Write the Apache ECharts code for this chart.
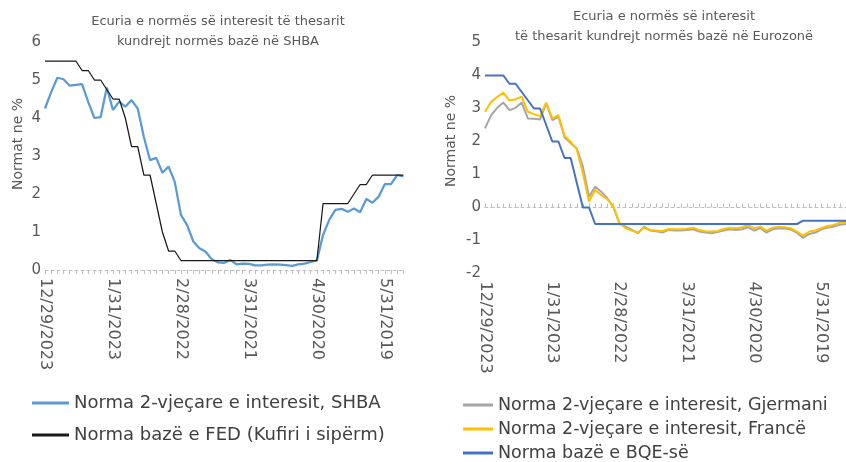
<!DOCTYPE html>
<html>
<head>
<meta charset="utf-8">
<script src="https://cdn.jsdelivr.net/npm/echarts@6/dist/echarts.min.js"></script>
<style>
  html, body { margin: 0; padding: 0; background: #ffffff; }
  #chart { width: 846px; height: 462px; }
</style>
</head>
<body>
<div id="chart"></div>
<script>
// Month-end dates, newest first (US panel: Dec 2023 – Feb 2019)
const datesUS = [
  '12/29/2023','11/30/2023','10/31/2023','9/29/2023','8/31/2023','7/31/2023','6/30/2023','5/31/2023','4/28/2023','3/31/2023','2/28/2023',
  '1/31/2023','12/30/2022','11/30/2022','10/31/2022','9/30/2022','8/31/2022','7/29/2022','6/30/2022','5/31/2022','4/29/2022','3/31/2022',
  '2/28/2022','1/31/2022','12/31/2021','11/30/2021','10/29/2021','9/30/2021','8/31/2021','7/30/2021','6/30/2021','5/31/2021','4/30/2021',
  '3/31/2021','2/26/2021','1/29/2021','12/31/2020','11/30/2020','10/30/2020','9/30/2020','8/31/2020','7/31/2020','6/30/2020','5/29/2020',
  '4/30/2020','3/31/2020','2/28/2020','1/31/2020','12/31/2019','11/29/2019','10/31/2019','9/30/2019','8/30/2019','7/31/2019','6/28/2019',
  '5/31/2019','4/30/2019','3/29/2019','2/28/2019'
];
// Euro area panel runs one month further (to Jan 2019)
const datesEU = datesUS.concat(['1/31/2019']);

// US 2-year Treasury yield, %
const us2y = [
  4.25, 4.68, 5.06, 5.02, 4.85, 4.87, 4.89, 4.42, 4.00, 4.02, 4.80,
  4.21, 4.43, 4.30, 4.47, 4.25, 3.50, 2.89, 2.95, 2.56, 2.72, 2.32,
  1.45, 1.18, 0.75, 0.57, 0.48, 0.28, 0.20, 0.19, 0.26, 0.15, 0.17,
  0.16, 0.12, 0.12, 0.14, 0.15, 0.14, 0.13, 0.11, 0.15, 0.17, 0.21,
  0.25, 0.92, 1.32, 1.58, 1.61, 1.53, 1.62, 1.52, 1.87, 1.77, 1.93,
  2.26, 2.26, 2.50, 2.46
];
// Fed funds target, upper bound, %
const fedUpper = [
  5.50, 5.50, 5.50, 5.50, 5.50, 5.50, 5.25, 5.25, 5.00, 5.00, 4.75,
  4.50, 4.50, 4.00, 3.25, 3.25, 2.50, 2.50, 1.75, 1.00, 0.50, 0.50,
  0.25, 0.25, 0.25, 0.25, 0.25, 0.25, 0.25, 0.25, 0.25, 0.25, 0.25,
  0.25, 0.25, 0.25, 0.25, 0.25, 0.25, 0.25, 0.25, 0.25, 0.25, 0.25,
  0.25, 1.75, 1.75, 1.75, 1.75, 1.75, 2.00, 2.25, 2.25, 2.50, 2.50,
  2.50, 2.50, 2.50, 2.50
];

// Germany 2-year yield, %
const de2y = [
  2.40, 2.80, 3.02, 3.18, 2.95, 3.02, 3.18, 2.70, 2.69, 2.67, 3.16,
  2.65, 2.75, 2.13, 1.95, 1.79, 1.24, 0.33, 0.63, 0.48, 0.28, 0.00,
  -0.50, -0.58, -0.68, -0.78, -0.58, -0.70, -0.72, -0.76, -0.68, -0.70, -0.70,
  -0.68, -0.66, -0.73, -0.76, -0.78, -0.74, -0.70, -0.66, -0.68, -0.66, -0.60,
  -0.70, -0.62, -0.76, -0.66, -0.63, -0.64, -0.67, -0.77, -0.92, -0.80, -0.76,
  -0.66, -0.61, -0.58, -0.52, -0.50
];
// France 2-year yield, %
const fr2y = [
  2.90, 3.20, 3.35, 3.48, 3.24, 3.28, 3.36, 2.90, 2.83, 2.77, 3.18,
  2.70, 2.80, 2.17, 1.99, 1.76, 1.04, 0.18, 0.53, 0.38, 0.25, 0.02,
  -0.48, -0.63, -0.70, -0.76, -0.61, -0.68, -0.70, -0.72, -0.65, -0.66, -0.66,
  -0.64, -0.61, -0.68, -0.72, -0.73, -0.71, -0.65, -0.61, -0.63, -0.60, -0.53,
  -0.63, -0.58, -0.70, -0.61, -0.58, -0.60, -0.63, -0.73, -0.85, -0.73, -0.70,
  -0.62, -0.56, -0.53, -0.46, -0.44
];
// ECB deposit facility rate, %
const ecbRate = [
  4.00, 4.00, 4.00, 4.00, 3.75, 3.75, 3.50, 3.25, 3.00, 3.00, 2.50,
  2.00, 2.00, 1.50, 1.50, 0.75, 0.00, 0.00, -0.50, -0.50, -0.50, -0.50,
  -0.50, -0.50, -0.50, -0.50, -0.50, -0.50, -0.50, -0.50, -0.50, -0.50, -0.50,
  -0.50, -0.50, -0.50, -0.50, -0.50, -0.50, -0.50, -0.50, -0.50, -0.50, -0.50,
  -0.50, -0.50, -0.50, -0.50, -0.50, -0.50, -0.50, -0.50, -0.40, -0.40, -0.40,
  -0.40, -0.40, -0.40, -0.40, -0.40
];

const seriesNames = {
  us: 'Norma 2-vjeçare e interesit, SHBA',
  fed: 'Norma bazë e FED (Kufiri i sipërm)',
  de: 'Norma 2-vjeçare e interesit, Gjermani',
  fr: 'Norma 2-vjeçare e interesit, Francë',
  ecb: 'Norma bazë e BQE-së'
};

const FONT = 'DejaVu Sans';
const TXT = '#595959';

const labelStyle = {
  rotate: -90, interval: 10, color: TXT, fontFamily: FONT, fontSize: 16, margin: 8
};
const tickStyle = { show: true, interval: 0, length: 4, inside: false, lineStyle: { color: '#bfbfbf' } };
const axisLineStyle = { show: true, lineStyle: { color: '#bfbfbf', type: [3, 3] } };

// one legend block per entry so each row sits exactly where wanted
function legendRow(name, left, top, iconW, size) {
  return {
    left: left, top: top, itemWidth: iconW, itemHeight: 3, icon: 'rect', itemGap: 0,
    textStyle: { fontFamily: FONT, fontSize: size, color: '#404040' },
    data: [name]
  };
}

const chart = echarts.init(document.getElementById('chart'), null, { renderer: 'canvas' });
chart.setOption({
  animation: false,
  title: [
    { text: 'Ecuria e normës së interesit të thesarit\nkundrejt normës bazë në SHBA', left: 213, top: 7, textAlign: 'center',
      textStyle: { fontFamily: FONT, fontSize: 13, fontWeight: 'normal', color: TXT, lineHeight: 20 } },
    { text: 'Ecuria e normës së interesit\ntë thesarit kundrejt normës bazë në Eurozonë', left: 659, top: 2, textAlign: 'center',
      textStyle: { fontFamily: FONT, fontSize: 13, fontWeight: 'normal', color: TXT, lineHeight: 20 } }
  ],
  graphic: [
    { type: 'text', left: 11, top: 98, rotation: Math.PI / 2,
      style: { text: 'Normat ne %', fill: TXT, font: '14px "' + FONT + '"' } },
    { type: 'text', left: 444, top: 95, rotation: Math.PI / 2,
      style: { text: 'Normat ne %', fill: TXT, font: '14px "' + FONT + '"' } }
  ],
  legend: [
    legendRow(seriesNames.us, 27, 389, 37, 18),
    legendRow(seriesNames.fed, 27, 421, 37, 18),
    legendRow(seriesNames.de, 458, 391, 30, 17.5),
    legendRow(seriesNames.fr, 458, 415, 30, 17.5),
    legendRow(seriesNames.ecb, 458, 439, 30, 17.5)
  ],
  grid: [
    { left: 45, right: 442.6, top: 42, bottom: 192 },
    { left: 485, right: -1.3, top: 42.5, bottom: 188.5 }
  ],
  xAxis: [
    { type: 'category', gridIndex: 0, data: datesUS, boundaryGap: false,
      axisLine: axisLineStyle, axisTick: tickStyle, axisLabel: labelStyle },
    { type: 'category', gridIndex: 1, data: datesEU, boundaryGap: false, position: 'bottom',
      axisLine: { show: false, onZero: false }, axisTick: { show: false }, axisLabel: labelStyle },
    { type: 'category', gridIndex: 1, data: datesEU, boundaryGap: false, position: 'top',
      axisLine: Object.assign({ onZero: true }, axisLineStyle), axisTick: tickStyle, axisLabel: { show: false } }
  ],
  yAxis: [
    { type: 'value', gridIndex: 0, min: 0, max: 6, interval: 1,
      axisLine: { show: false }, axisTick: { show: false }, splitLine: { show: false },
      axisLabel: { color: TXT, fontFamily: FONT, fontSize: 15, margin: 4 } },
    { type: 'value', gridIndex: 1, min: -2, max: 5, interval: 1,
      axisLine: { show: false }, axisTick: { show: false }, splitLine: { show: false },
      axisLabel: { color: TXT, fontFamily: FONT, fontSize: 15, margin: 4 } }
  ],
  series: [
    { name: seriesNames.us, type: 'line', xAxisIndex: 0, yAxisIndex: 0, data: us2y, showSymbol: false,
      lineStyle: { color: '#5B9BD5', width: 2.25 }, itemStyle: { color: '#5B9BD5' } },
    { name: seriesNames.fed, type: 'line', xAxisIndex: 0, yAxisIndex: 0, data: fedUpper, showSymbol: false,
      lineStyle: { color: '#1a1a1a', width: 1.25 }, itemStyle: { color: '#1a1a1a' } },
    { name: seriesNames.de, type: 'line', xAxisIndex: 1, yAxisIndex: 1, data: de2y, showSymbol: false,
      lineStyle: { color: '#A5A5A5', width: 2 }, itemStyle: { color: '#A5A5A5' } },
    { name: seriesNames.fr, type: 'line', xAxisIndex: 1, yAxisIndex: 1, data: fr2y, showSymbol: false,
      lineStyle: { color: '#FFC000', width: 2 }, itemStyle: { color: '#FFC000' } },
    { name: seriesNames.ecb, type: 'line', xAxisIndex: 1, yAxisIndex: 1, data: ecbRate, showSymbol: false,
      lineStyle: { color: '#4472C4', width: 2 }, itemStyle: { color: '#4472C4' } }
  ]
});
</script>
</body>
</html>
